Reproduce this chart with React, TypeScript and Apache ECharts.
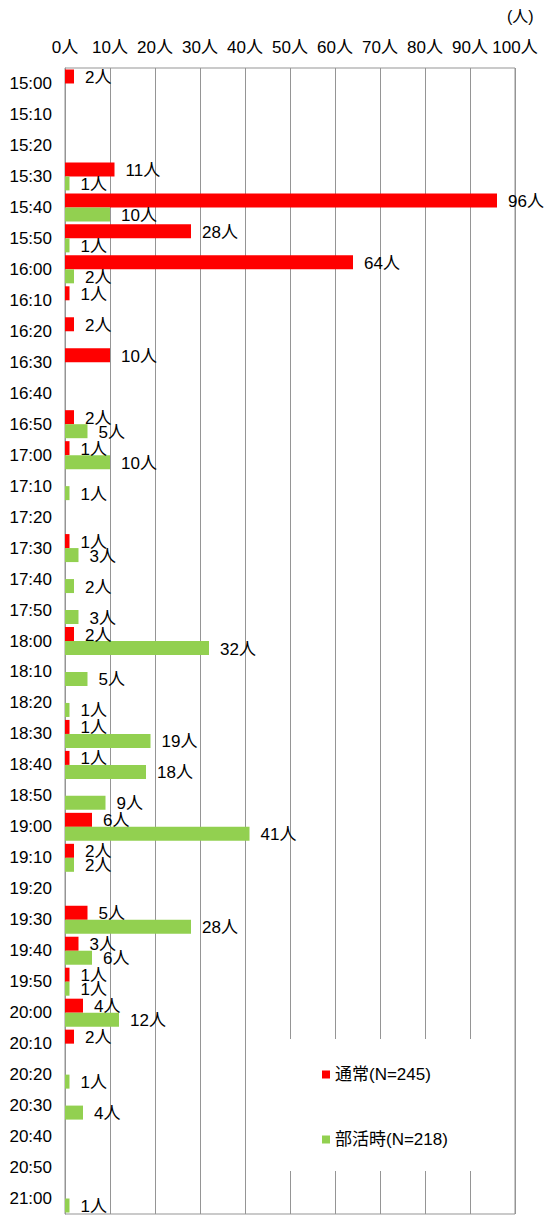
import React, { useEffect, useRef } from "react";
import * as echarts from "echarts";

const categories = [
  "15:00", "15:10", "15:20", "15:30", "15:40", "15:50",
  "16:00", "16:10", "16:20", "16:30", "16:40", "16:50",
  "17:00", "17:10", "17:20", "17:30", "17:40", "17:50",
  "18:00", "18:10", "18:20", "18:30", "18:40", "18:50",
  "19:00", "19:10", "19:20", "19:30", "19:40", "19:50",
  "20:00", "20:10", "20:20", "20:30", "20:40", "20:50",
  "21:00",
];

const normalName = "通常(N=245)";
const clubName = "部活時(N=218)";

const normalValues = [
  2, 0, 0, 11, 96, 28,
  64, 1, 2, 10, 0, 2,
  1, 0, 0, 1, 0, 0,
  2, 0, 0, 1, 1, 0,
  6, 2, 0, 5, 3, 1,
  4, 2, 0, 0, 0, 0,
  0,
];

const clubValues = [
  0, 0, 0, 1, 10, 1,
  2, 0, 0, 0, 0, 5,
  10, 1, 0, 3, 2, 3,
  32, 5, 1, 19, 18, 9,
  41, 2, 0, 28, 6, 1,
  12, 0, 1, 4, 0, 0,
  1,
];

const FONT = "'Liberation Sans', 'Noto Sans CJK JP', sans-serif";
const GRAY = "#959595";

export default function App() {
  const ref = useRef<HTMLDivElement>(null);

  useEffect(() => {
    if (!ref.current) return;
    const chart = echarts.init(ref.current, undefined, { renderer: "svg" });
    const labelCfg = {
      show: true,
      position: "right" as const,
      distance: 11,
      offset: [0, 1],
      color: "#000",
      fontSize: 17,
      fontFamily: FONT,
      formatter: (p: any) => (p.value ? `${p.value}人` : ""),
    };
    chart.setOption({
      animation: false,
      backgroundColor: "#fff",
      grid: {
        left: 65,
        right: 30,
        top: 68,
        bottom: 1,
        show: true,
        borderColor: GRAY,
        borderWidth: 1,
        backgroundColor: "transparent",
      },
      xAxis: {
        type: "value",
        position: "top",
        min: 0,
        max: 100,
        interval: 10,
        axisLine: { show: false },
        axisTick: { show: false },
        axisLabel: {
          formatter: "{value}人",
          color: "#000",
          fontSize: 17,
          fontFamily: FONT,
          margin: 12,
        },
        splitLine: { show: true, lineStyle: { color: GRAY, width: 1 } },
      },
      yAxis: {
        type: "category",
        inverse: true,
        data: categories,
        axisLine: { show: true, lineStyle: { color: GRAY, width: 1 } },
        axisTick: { show: false },
        axisLabel: {
          color: "#000",
          fontSize: 17,
          fontFamily: FONT,
          margin: 13,
        },
        splitLine: { show: false },
      },
      legend: {
        orient: "vertical",
        left: 317,
        top: 1061,
        itemWidth: 8,
        itemHeight: 8,
        itemGap: 48,
        icon: "rect",
        z: 10,
        textStyle: { color: "#000", fontSize: 17, fontFamily: FONT },
        data: [normalName, clubName],
      },
      graphic: [
        {
          type: "rect",
          z: 5,
          shape: { x: 286, y: 1039, width: 227, height: 132 },
          style: { fill: "#fff" },
        },
        {
          type: "text",
          x: 507,
          y: 8,
          style: {
            text: "(人)",
            fill: "#000",
            fontSize: 16,
            fontFamily: FONT,
          },
        },
      ],
      series: [
        {
          name: normalName,
          type: "bar",
          data: normalValues,
          barWidth: 14,
          barGap: "0%",
          itemStyle: { color: "#ff0000" },
          label: labelCfg,
        },
        {
          name: clubName,
          type: "bar",
          data: clubValues,
          barWidth: 14,
          barGap: "0%",
          itemStyle: { color: "#92d050" },
          label: labelCfg,
        },
      ],
    });
    return () => chart.dispose();
  }, []);

  return (
    <div
      ref={ref}
      style={{ position: "absolute", left: 0, top: 0, width: 545, height: 1215 }}
    />
  );
}
